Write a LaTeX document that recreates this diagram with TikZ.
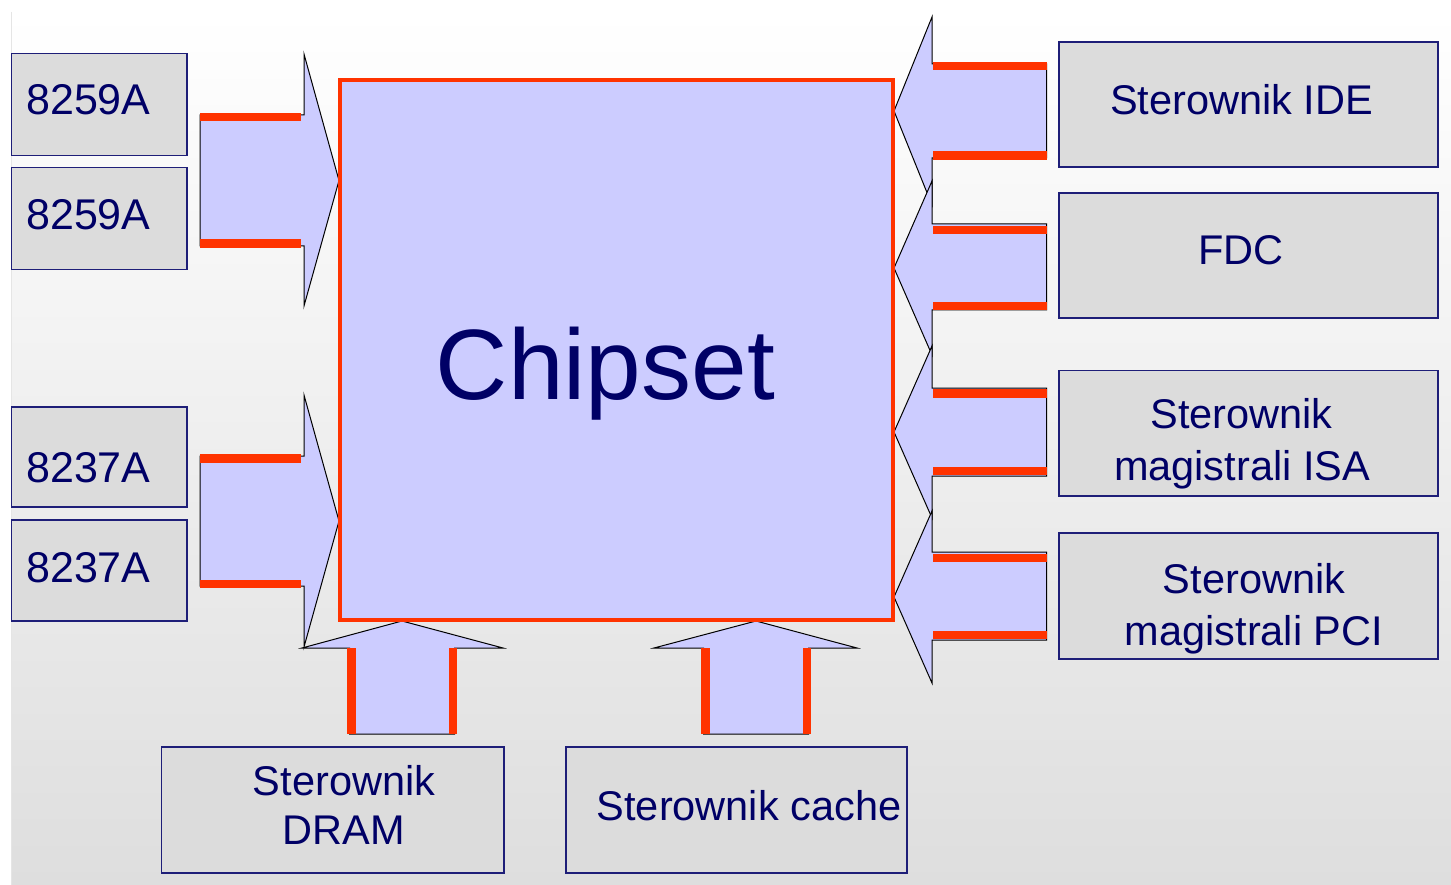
\documentclass[tikz,border=0pt]{standalone}
\usepackage{fontspec}
\setmainfont{Liberation Sans}
\definecolor{bgbottom}{RGB}{222,222,222}
\definecolor{unitfill}{RGB}{220,220,220}
\definecolor{unitline}{RGB}{30,30,120}
\definecolor{ink}{RGB}{0,0,102}
\definecolor{busfill}{RGB}{204,204,255}
\definecolor{busred}{RGB}{255,51,0}
\tikzset{
  unit/.style={draw=unitline, line width=1.5pt, fill=unitfill, inner sep=0pt, outer sep=0pt},
  lbl/.style={text=ink, inner sep=0pt, anchor=base, font=\fontsize{41.5}{50}\selectfont},
  chiplbl/.style={lbl, anchor=base west, font=\fontsize{43}{50}\selectfont},
  bus/.style={fill=busfill, draw=black, line width=1pt, line join=miter},
  busedge/.style={draw=busred, line width=8.5pt},
  core/.style={draw=busred, line width=4pt, fill=busfill, inner sep=0pt, outer sep=0pt},
}
\begin{document}
\begin{tikzpicture}[x=1pt, y=-1pt]
  \useasboundingbox (0,0) rectangle (1451,885);
  % backdrop
  \fill[white] (0,0) rectangle (1451,885);
  \shade[top color=white, bottom color=bgbottom] (11,12) rectangle (1451,885);
  \draw[gray!20, line width=1pt] (11,12) -- (11,885);

  % peripheral controllers, left column
  \node[unit, minimum width=175.5pt, minimum height=102pt] (pic1) at (99.25,104.5) {};
  \node[unit, minimum width=175.5pt, minimum height=102pt] (pic2) at (99.25,218.5) {};
  \node[unit, minimum width=175.5pt, minimum height=100pt] (dma1) at (99.25,457) {};
  \node[unit, minimum width=175.5pt, minimum height=101pt] (dma2) at (99.25,570.5) {};
  \node[chiplbl] (pic1t) at (26,115) {8259A};
  \node[chiplbl] (pic2t) at (26,230) {8259A};
  \node[chiplbl] (dma1t) at (26,482) {8237A};
  \node[chiplbl] (dma2t) at (26,582) {8237A};

  % right column
  \node[unit, minimum width=379pt, minimum height=125pt] (ide) at (1248.5,104.5) {};
  \node[unit, minimum width=379pt, minimum height=125pt] (fdc) at (1248.5,255.5) {};
  \node[unit, minimum width=379pt, minimum height=125.5pt] (isa) at (1248.5,433.25) {};
  \node[unit, minimum width=379pt, minimum height=126pt] (pci) at (1248.5,596) {};
  \node[lbl] (idet) at (1241.5,115) {Sterownik IDE};
  \node[lbl] (fdct) at (1241,265) {FDC};
  \node[lbl] (isat1) at (1241.5,428) {Sterownik};
  \node[lbl] (isat2) at (1242,480) {magistrali ISA};
  \node[lbl] (pcit1) at (1254,593) {Sterownik};
  \node[lbl] (pcit2) at (1254,645) {magistrali PCI};

  % bottom row
  \node[unit, minimum width=342.5pt, minimum height=126pt] (dram) at (332.75,810) {};
  \node[unit, minimum width=341pt, minimum height=126pt] (cache) at (736.5,810) {};
  \node[lbl] (dramt1) at (344,795) {Sterownik};
  \node[lbl] (dramt2) at (344,844) {DRAM};
  \node[lbl] (cachet) at (749,820) {Sterownik cache};

  % buses towards the chipset: from the left
  \draw[bus] (200,115) -- (304,115) -- (304,54) -- (339,180.5) -- (304,306) -- (304,246) -- (200,246) -- cycle;
  \draw[busedge] (200,117.25) -- (301,117.25) (200,243.75) -- (301,243.75);
  \draw[bus] (200,456) -- (304,456) -- (304,395) -- (339,521) -- (304,647) -- (304,586) -- (200,586) -- cycle;
  \draw[busedge] (200,458.25) -- (301,458.25) (200,583.75) -- (301,583.75);

  % from the right
  \draw[bus] (1046.5,64) -- (932,64) -- (932,17) -- (894,111) -- (932,205) -- (932,158) -- (1046.5,158) -- cycle;
  \draw[busedge] (933,66.25) -- (1046.5,66.25) (933,155.75) -- (1046.5,155.75);
  \draw[bus] (1046.5,224) -- (932,224) -- (932,181) -- (894,268) -- (932,355) -- (932,310) -- (1046.5,310) -- cycle;
  \draw[busedge] (933,230) -- (1046.5,230) (933,306) -- (1046.5,306);
  \draw[bus] (1046.5,388) -- (932,388) -- (932,346) -- (894,432) -- (932,518) -- (932,476) -- (1046.5,476) -- cycle;
  \draw[busedge] (933,393.5) -- (1046.5,393.5) (933,471) -- (1046.5,471);
  \draw[bus] (1046.5,552) -- (932,552) -- (932,511) -- (894,597) -- (932,683) -- (932,640) -- (1046.5,640) -- cycle;
  \draw[busedge] (933,558) -- (1046.5,558) (933,635) -- (1046.5,635);

  % from below
  \draw[bus] (349.5,734) -- (349.5,648) -- (302,648) -- (402,621) -- (503,648) -- (454.5,648) -- (454.5,734) -- cycle;
  \draw[busedge] (351.25,648) -- (351.25,734) (452.75,648) -- (452.75,734);
  \draw[bus] (703.5,734) -- (703.5,648) -- (654,648) -- (756,621) -- (857,648) -- (808.5,648) -- (808.5,734) -- cycle;
  \draw[busedge] (705.25,648) -- (705.25,734) (806.75,648) -- (806.75,734);

  % chipset
  \node[core, minimum width=553pt, minimum height=540pt] (chipset) at (616,350) {};
  \node[lbl, font=\fontsize{100}{110}\selectfont] (chipsett) at (605.5,399) {Chipset};
\end{tikzpicture}
\end{document}
